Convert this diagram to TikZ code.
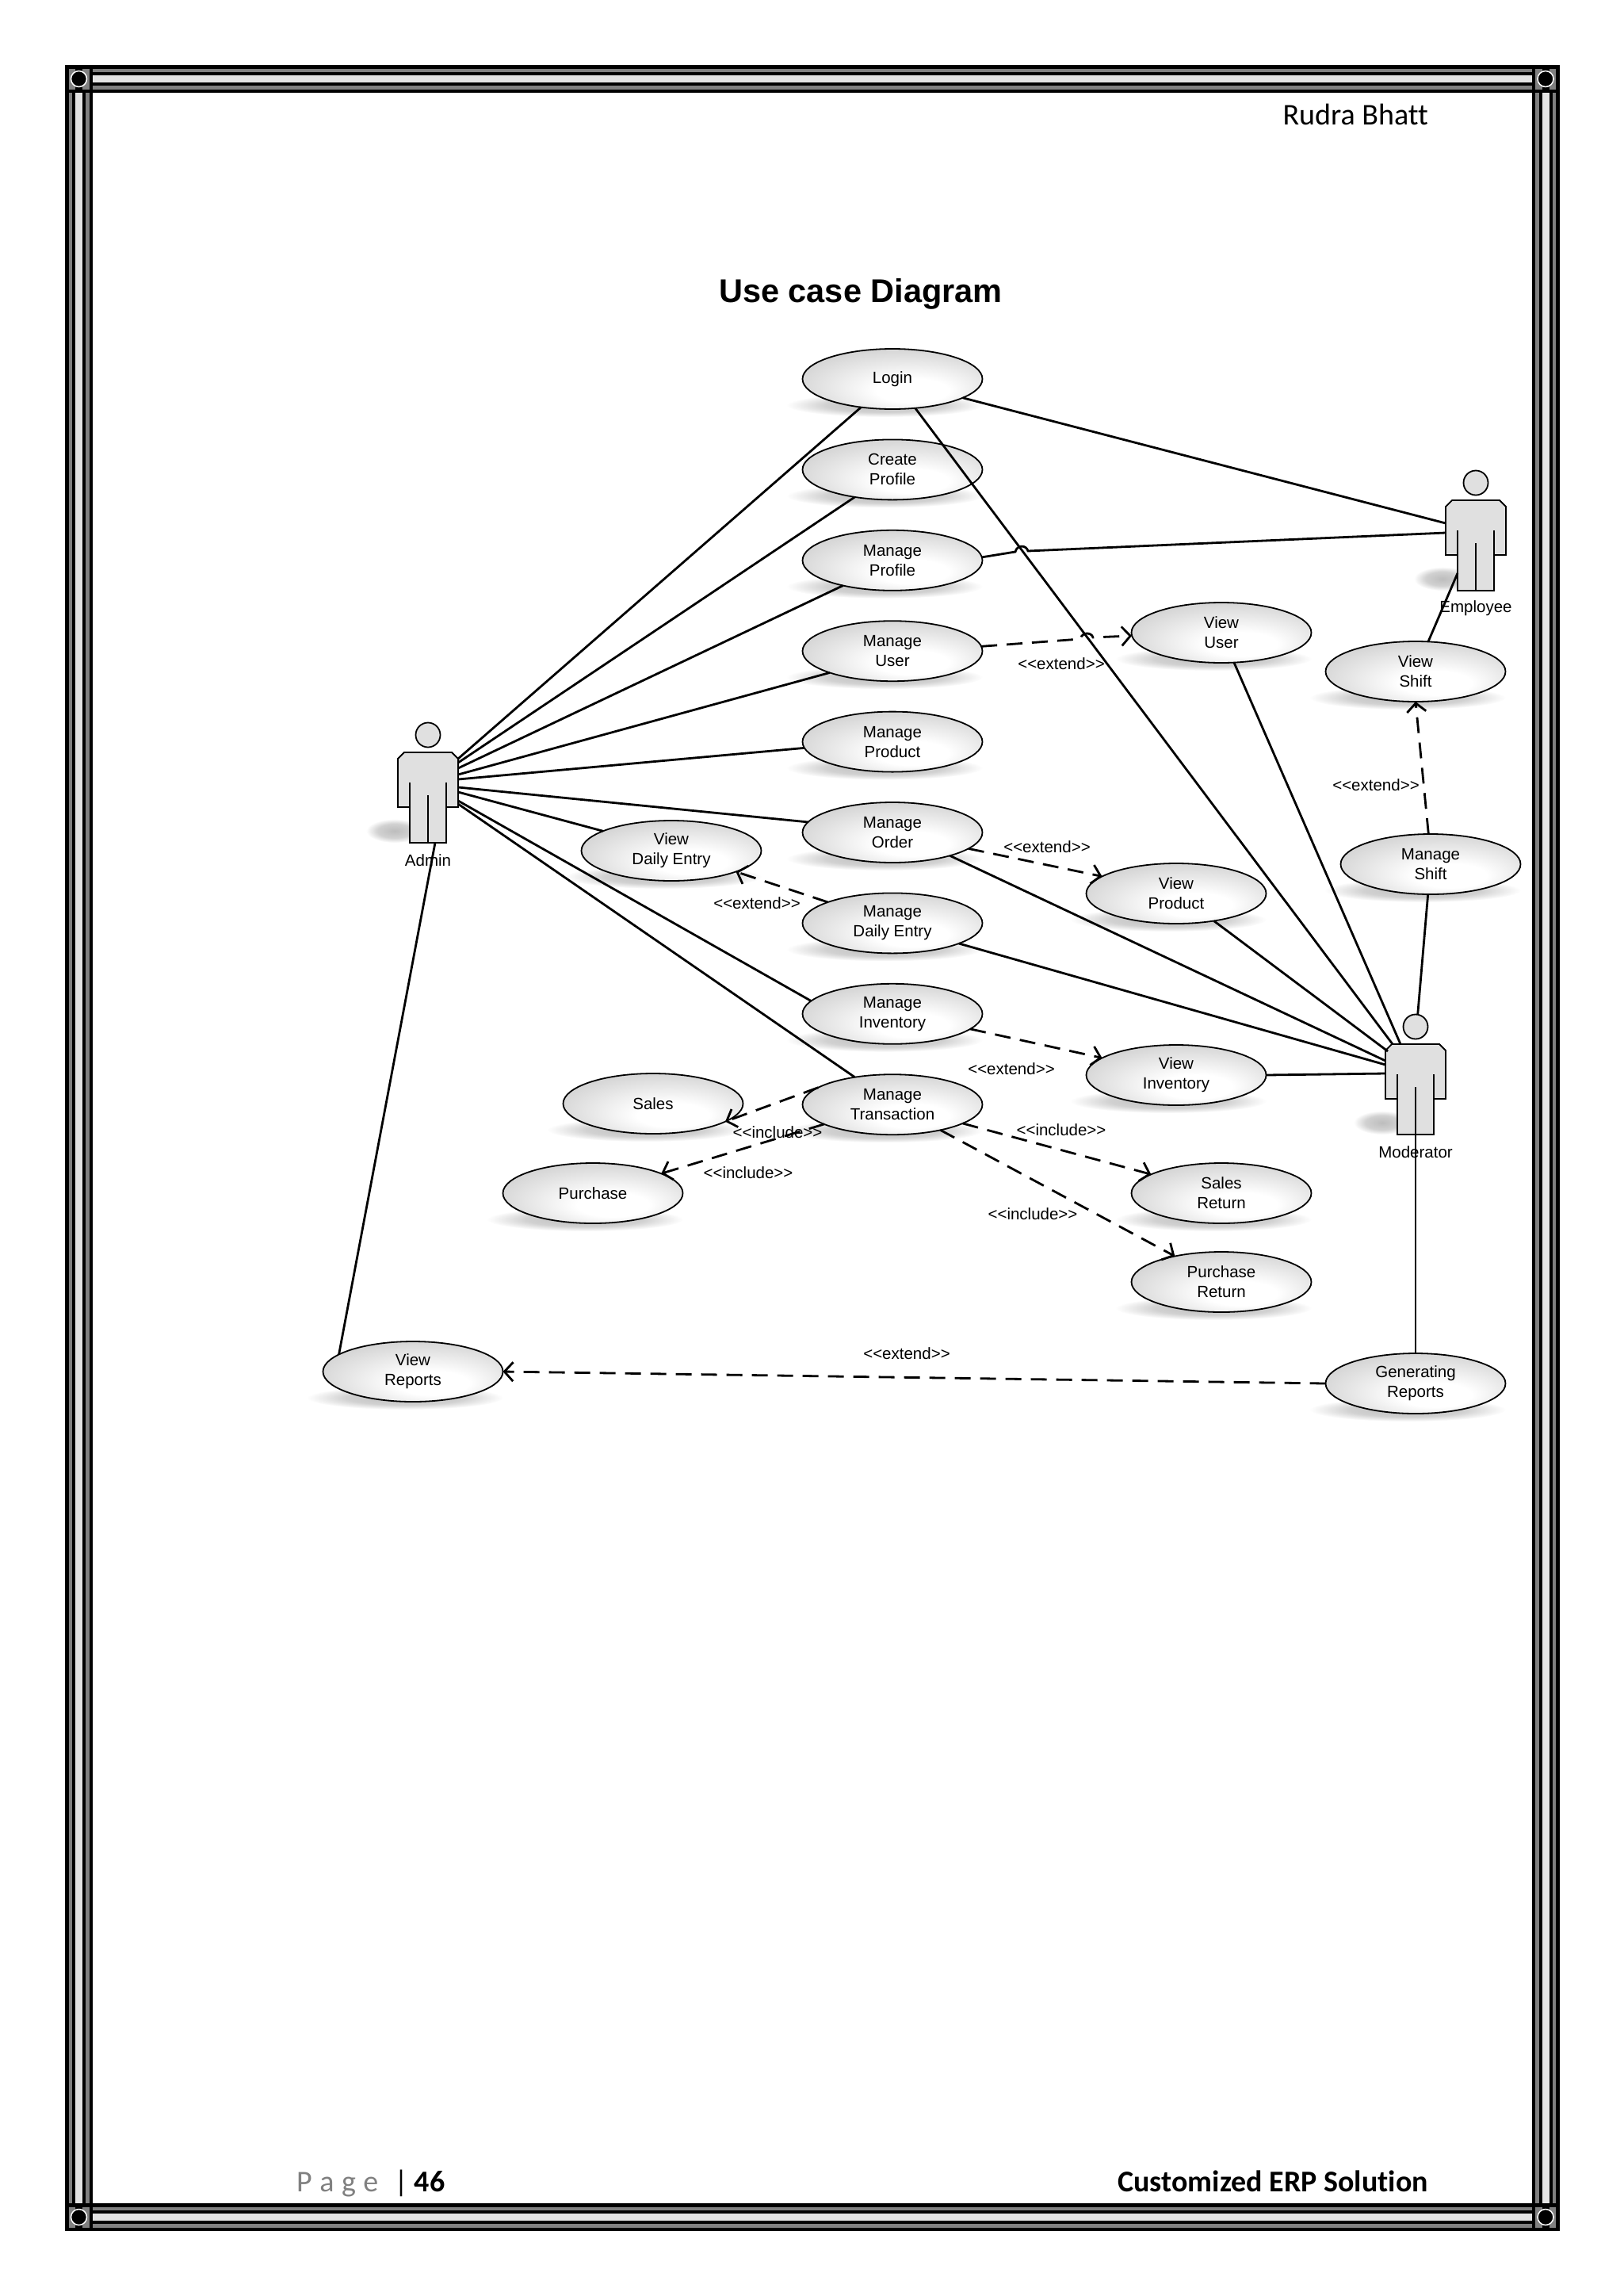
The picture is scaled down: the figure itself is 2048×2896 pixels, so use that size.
\documentclass[tikz,border=0pt]{standalone}
\usepackage{fontspec}
\setmainfont{Liberation Sans}
\newfontfamily\carlito[Ligatures=NoCommon]{Carlito}
\usetikzlibrary{arrows.meta, positioning, shapes.geometric, calc, backgrounds}
\pgfdeclareradialshading{ucfill}{\pgfpoint{7bp}{-12bp}}{color(0bp)=(white); color(10bp)=(white); color(32bp)=(black!18); color(50bp)=(black!20)}
\pgfdeclareradialshading{stripfade}{\pgfpointorigin}{color(0bp)=(black!26); color(15bp)=(black!18); color(25bp)=(white); color(50bp)=(white)}
\begin{document}
\begin{tikzpicture}[x=1pt, y=-1pt, >={Straight Barb[length=11pt,width=24pt]},
        usecase/.style={ellipse, draw, line width=1.8pt, shade, shading=ucfill, minimum width=227pt, minimum height=76pt, inner sep=0pt, outer sep=0pt, align=center, font=\fontsize{20.5}{25}\selectfont},
        stereo/.style={inner sep=0pt, font=\fontsize{20.5}{25}\selectfont},
        assoc/.style={line width=2.8pt},
        depend/.style={line width=2.8pt, dash pattern=on 20pt off 12pt, ->},
        pics/actor/.style={code={
            \shade[shading=stripfade] (-42,121) ellipse (36 and 15);
            \draw[line width=1.8pt, fill=black!12] (-30,22) -- (30,22) -- (38,30) -- (38,91) -- (23,91) -- (23,136) -- (-23,136) -- (-23,91) -- (-38,91) -- (-38,30) -- cycle;
            \draw[line width=1.8pt] (-23,60) -- (-23,91) (23,60) -- (23,91) (0,76) -- (0,136);
            \node[circle, draw, line width=1.8pt, fill=black!12, minimum size=31pt, inner sep=0pt, outer sep=0pt] (-head) at (0,0) {};
            \node[minimum width=76pt, minimum height=114pt, inner sep=0pt, outer sep=0pt] (-body) at (0,79) {};
            \node[stereo] (-label) at (0,158) {#1};
        }}]
    \useasboundingbox (0,0) rectangle (2048,2896);

    % Page frame
    \foreach \w/\c in {35/black, 26/black!50, 17/black, 9/black!11}
        \draw[line width=\w pt, \c] (99.5,99.5) rectangle (1950,2796.5);
    \foreach \p in {(99.5,99.5), (1950,99.5), (99.5,2796.5), (1950,2796.5)} {
        \fill[black] \p ++(-17.5,-17.5) rectangle ++(35,35);
        \fill[black!50] \p ++(-13,-13) rectangle ++(26,26);
        \fill[black] \p ++(-4.5,-13) rectangle ++(9,26);
        \draw[white, line width=1.5pt, fill=black] \p circle (10);
    }

    % Page texts
    \node[anchor=base east, inner sep=0pt, font=\carlito\fontsize{38}{44}\selectfont] (author) at (1802,157) {Rudra Bhatt};
    \node[inner sep=0pt, font=\bfseries\fontsize{41.5}{50}\selectfont] (title) at (1086,371) {Use case Diagram};
    \node[anchor=base west, inner sep=0pt, font=\carlito\fontsize{38}{44}\selectfont] (pagenum) at (374,2764) {{\color{black!50}P\hspace{9.5pt}a\hspace{9.5pt}g\hspace{9.5pt}e}\hspace{20pt}|\hspace{8pt}\textbf{46}};
    \node[anchor=base east, inner sep=0pt, font=\carlito\bfseries\fontsize{38}{44}\selectfont] (project) at (1802,2764) {Customized ERP Solution};

    % Use cases
    \node[usecase] (login) at (1126,478) {Login};
    \node[usecase, below=38.4pt of login] (createprofile) {Create\\Profile};
    \node[usecase, below=38.4pt of createprofile] (manageprofile) {Manage\\Profile};
    \node[usecase, below=38.4pt of manageprofile] (manageuser) {Manage\\User};
    \node[usecase, below=38.4pt of manageuser] (manageproduct) {Manage\\Product};
    \node[usecase, below=38.4pt of manageproduct] (manageorder) {Manage\\Order};
    \node[usecase, below=38.4pt of manageorder] (managedaily) {Manage\\Daily Entry};
    \node[usecase, below=38.4pt of managedaily] (manageinventory) {Manage\\Inventory};
    \node[usecase, below=38.4pt of manageinventory] (managetransaction) {Manage\\Transaction};

    \node[usecase] (viewdaily) at (847,1073) {View\\Daily Entry};
    \node[usecase] (sales) at (824,1392) {Sales};
    \node[usecase] (purchase) at (748,1505) {Purchase};
    \node[usecase] (viewuser) at (1541,798) {View\\User};
    \node[usecase] (viewshift) at (1786,847) {View\\Shift};
    \node[usecase] (manageshift) at (1805,1090) {Manage\\Shift};
    \node[usecase] (viewproduct) at (1484,1127) {View\\Product};
    \node[usecase] (viewinventory) at (1484,1356) {View\\Inventory};
    \node[usecase] (salesreturn) at (1541,1505) {Sales\\Return};
    \node[usecase] (purchasereturn) at (1541,1617) {Purchase\\Return};
    \node[usecase] (generating) at (1786,1745) {Generating\\Reports};
    \node[usecase] (viewreports) at (521,1730) {View\\Reports};

    % Shadows
    \begin{scope}[on background layer]
        \foreach \uc in {login, createprofile, manageprofile, manageuser, manageproduct, manageorder, managedaily, manageinventory, managetransaction, viewdaily, sales, purchase, viewuser, viewshift, manageshift, viewproduct, viewinventory, salesreturn, purchasereturn, generating, viewreports}
            \shade[shading=stripfade] ($(\uc.south)+(-10,-5)$) ellipse (124 and 15);
    \end{scope}

    % Actors
    \pic (admin) at (540,927) {actor=Admin};
    \pic (employee) at (1862,609) {actor=Employee};
    \pic (moderator) at (1786,1295) {actor=Moderator};

    % Jumps
    \coordinate (hopprofile) at (1289,695);
    \coordinate (hopuser) at (1371,805);

    % Lines of Admin
    \draw[assoc] ($(admin-body.north east)+(0,8)$) -- (login.222);
    \draw[assoc] ($(admin-body.north east)+(0,13)$) -- (createprofile.216.5);
    \draw[assoc] ($(admin-body.north east)+(0,20)$) -- (manageprofile.207.6);
    \draw[assoc] ($(admin-body.north east)+(0,28)$) -- (manageuser.199.9);
    \draw[assoc] ($(admin-body.north east)+(0,34)$) -- (manageproduct.184.6);
    \draw[assoc] ($(admin-body.north east)+(0,44)$) -- (manageorder.173.7);
    \draw[assoc] ($(admin-body.north east)+(0,50)$) -- (viewdaily.164);
    \draw[assoc] ($(admin-body.north east)+(0,61)$) -- (manageinventory.171.4);
    \draw[assoc] ($(admin-body.north east)+(0,65)$) -- (managetransaction.144.5);
    \draw[assoc] ($(admin-body.south)+(9,0)$) -- (viewreports.167.3);

    % Lines of Employee
    \draw[assoc] (login.-15.9) -- ($(employee-body.north west)+(0,29)$);
    \draw[assoc] (manageprofile.2) -- ($(hopprofile)+(-8,1)$) .. controls ($(hopprofile)+(-6,-8)$) and ($(hopprofile)+(6,-8)$) .. ($(hopprofile)+(8,0)$) -- ($(employee-body.north west)+(0,41)$);
    \draw[assoc] (viewshift.67) -- ($(employee-body.north west)+(15,92)$);

    % Lines of Moderator
    \draw[assoc] (login.-52) -- ($(moderator-body.north west)+(9,0)$);
    \draw[assoc] (viewuser.-67) -- ($(moderator-body.north west)+(19,0)$);
    \draw[assoc] (viewproduct.-36) -- ($(moderator-body.north west)+(3,9)$);
    \draw[assoc] (manageorder.-22.2) -- ($(moderator-body.north west)+(0,21)$);
    \draw[assoc] (managedaily.-17) -- ($(moderator-body.north west)+(0,26)$);
    \draw[assoc] (viewinventory.east) -- ($(moderator-body.north west)+(0,37)$);
    \draw[assoc] (manageshift.265.5) -- (moderator-head.80);
    \draw[assoc] (moderator-body.south) -- (generating.north);

    % Dashed lines
    \draw[depend] (manageuser.3) -- ($(hopuser)+(-8,1)$) .. controls ($(hopuser)+(-6,-8)$) and ($(hopuser)+(6,-8)$) .. ($(hopuser)+(8,-1)$) -- (viewuser.182.5);
    \draw[depend] (manageorder.-12.6) -- (viewproduct.167);
    \draw[depend] (manageshift.94.5) -- (viewshift.south);
    \draw[depend] (managedaily.162) -- (viewdaily.-18.4);
    \draw[depend] (manageinventory.-11.7) -- (viewinventory.167.7);
    \draw[depend] (managetransaction.167.5) -- (sales.-14.5);
    \draw[depend] (managetransaction.196.6) -- (purchase.16.6);
    \draw[depend] (managetransaction.-15.9) -- (salesreturn.165);
    \draw[depend] (managetransaction.-28.4) -- (purchasereturn.151.2);
    \draw[depend] (generating.west) -- (viewreports.east);

    % Annotations
    \node[stereo] (extuser) at (1339,837) {<{}<extend>{}>};
    \node[stereo] (extproduct) at (1321,1068) {<{}<extend>{}>};
    \node[stereo] (extshift) at (1736,990) {<{}<extend>{}>};
    \node[stereo] (extdaily) at (955,1139) {<{}<extend>{}>};
    \node[stereo] (extinventory) at (1276,1348) {<{}<extend>{}>};
    \node[stereo] (extreports) at (1144,1707) {<{}<extend>{}>};
    \node[stereo] (incsales) at (981,1428) {<{}<include>{}>};
    \node[stereo] (incpurchase) at (944,1479) {<{}<include>{}>};
    \node[stereo] (incsalesreturn) at (1339,1425) {<{}<include>{}>};
    \node[stereo] (incpurchasereturn) at (1303,1531) {<{}<include>{}>};
\end{tikzpicture}
\end{document}
